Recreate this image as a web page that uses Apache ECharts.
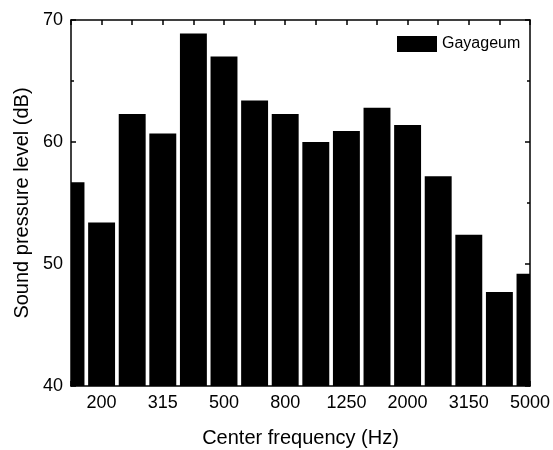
<!DOCTYPE html>
<html>
<head>
<meta charset="utf-8">
<script src="https://cdn.jsdelivr.net/npm/echarts@6/dist/echarts.min.js"></script>
<style>html,body{margin:0;padding:0;background:#fff}#c{width:553px;height:450px}</style>
</head>
<body>
<div id="c"></div>
<script>
const categories = ['160','200','250','315','400','500','630','800','1000','1250','1600','2000','2500','3150','4000','5000'];
const spl = [56.7, 53.4, 62.3, 60.7, 68.9, 67.0, 63.4, 62.3, 60.0, 60.9, 62.8, 61.4, 57.2, 52.4, 47.7, 49.2];
const seriesName = 'Gayageum';
const yTicks = [40, 50, 60, 70];

const font = 'Liberation Sans, Arial, sans-serif';
const chart = echarts.init(document.getElementById('c'));
const lineStyle = {color: '#000', width: 1.5};
const yMin = yTicks[0], yMax = yTicks[yTicks.length - 1];

function renderBar(params, api) {
  const xi = api.value(0);
  const top = api.coord([xi, api.value(1)]);
  const base = api.coord([xi, yMin]);
  const band = api.size([1, 0])[0];
  const w = band * 0.88;
  const cs = params.coordSys;
  const shape = echarts.graphic.clipRectByRect(
    {x: top[0] - w / 2, y: top[1], width: w, height: base[1] - top[1]},
    {x: cs.x, y: cs.y, width: cs.width, height: cs.height}
  );
  return shape && {type: 'rect', shape: shape, style: {fill: '#000'}};
}

chart.setOption({
  animation: false,
  backgroundColor: '#fff',
  grid: {left: 71, right: 23, top: 20, bottom: 64, outerBoundsMode: 'none', containLabel: false},
  legend: {
    data: [seriesName], left: 392, top: 31, icon: 'rect',
    itemWidth: 40, itemHeight: 16, itemGap: 5,
    itemStyle: {color: '#000'},
    textStyle: {fontFamily: font, fontSize: 16, color: '#000', padding: [0, 0, 0, 0]}
  },
  xAxis: [{
    type: 'category', data: categories, boundaryGap: false, position: 'bottom',
    name: 'Center frequency (Hz)', nameLocation: 'middle', nameGap: 42,
    nameTextStyle: {fontFamily: font, fontSize: 20, color: '#000'},
    axisLine: {lineStyle: lineStyle},
    axisTick: {inside: true, interval: 0, length: 5, lineStyle: lineStyle},
    axisLabel: {interval: (i) => i % 2 === 1, fontFamily: font, fontSize: 18, color: '#000', margin: 8}
  }, {
    type: 'category', data: categories, boundaryGap: false, position: 'top',
    axisLine: {lineStyle: lineStyle},
    axisTick: {inside: true, interval: 0, length: 5, lineStyle: lineStyle},
    axisLabel: {show: false}
  }],
  yAxis: [{
    type: 'value', min: yMin, max: yMax, interval: 10, position: 'left',
    name: 'Sound pressure level (dB)', nameLocation: 'middle', nameGap: 38,
    nameTextStyle: {fontFamily: font, fontSize: 20, color: '#000'},
    axisLine: {show: true, lineStyle: lineStyle},
    axisTick: {show: true, inside: true, length: 5, lineStyle: lineStyle},
    minorTick: {show: true, splitNumber: 2, length: 3, lineStyle: lineStyle},
    splitLine: {show: false},
    axisLabel: {fontFamily: font, fontSize: 18, color: '#000', margin: 8}
  }, {
    type: 'value', min: yMin, max: yMax, interval: 10, position: 'right',
    axisLine: {show: true, lineStyle: lineStyle},
    axisTick: {show: true, inside: true, length: 5, lineStyle: lineStyle},
    minorTick: {show: true, splitNumber: 2, length: 3, lineStyle: lineStyle},
    splitLine: {show: false},
    axisLabel: {show: false}
  }],
  series: [{
    name: seriesName, type: 'custom', renderItem: renderBar,
    encode: {x: 0, y: 1},
    itemStyle: {color: '#000'},
    data: spl.map((v, i) => [i, v])
  }]
});
</script>
</body>
</html>
